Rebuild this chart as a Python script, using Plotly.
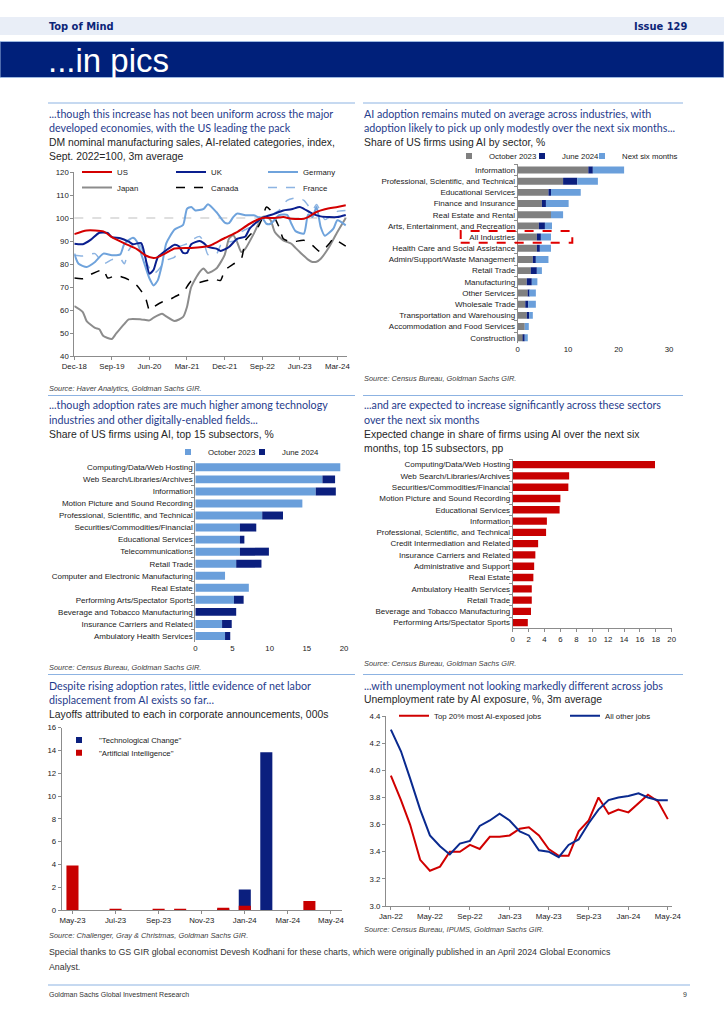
import plotly.graph_objects as go
import pandas as pd

# ======================= DATA =======================
# Chart 1: DM nominal manufacturing sales, AI-related categories (index, Sept 2022 = 100)
# month offsets are counted from Dec-2018
p1_start = "2018-12-01"
us_months = [0, 3, 7, 9, 12, 15, 17, 19, 20, 22, 24, 28, 32, 33, 36, 39, 42, 45, 48, 50, 52, 55, 56, 58, 60, 63, 65]
us_values = [93, 94.6, 94.2, 91.7, 89, 86.5, 83.8, 82.6, 83, 84.8, 86.7, 87, 87.7, 88.4, 91.3, 93.9, 97.5, 100, 100,
             100.4, 99.7, 99.7, 100.4, 102.6, 103.8, 104.8, 105.5]
uk_months = [0, 2, 4, 6, 8, 9, 11, 13, 14, 16, 17, 18, 19, 20, 22, 24, 25, 26, 27, 28, 30, 31, 32, 34, 35, 37, 39, 41,
             42, 45, 48, 50, 52, 54, 55, 57, 59, 61, 63, 65]
uk_values = [88.8, 88.6, 90.6, 93.6, 93.5, 91.7, 91.2, 89.7, 88.6, 89.1, 83, 75.8, 77.5, 83, 86, 88.4, 87.7, 84.8, 84.8,
             88.6, 90, 89.1, 87.4, 86.7, 85.7, 87.4, 90.9, 92, 95.4, 100, 101.9, 103.3, 103.8, 104.8, 104, 101.9,
             100.7, 100.4, 100.4, 101.3]
de_months = [0, 1, 3, 5, 7, 9, 11, 12, 14, 15, 16, 17, 18, 19, 20, 21, 22, 24, 26, 27, 28, 29, 31, 32, 34, 36, 37, 38,
             39, 41, 43, 44, 45, 46, 47, 49, 51, 52, 53, 55, 56, 57, 58, 59, 60, 62, 63, 65]
de_values = [84.5, 80.1, 78.7, 80.9, 84.5, 83.8, 84.2, 88.8, 91.4, 89.8, 84.5, 79, 73.7, 70.7, 73, 80, 89, 95, 97, 104,
             104.8, 103.3, 104, 106, 102.6, 98, 97.8, 100.4, 101.9, 101.2, 101.2, 100.4, 100, 97.5, 97.5, 101.2,
             101.4, 97.5, 94.3, 93.2, 101.5, 100.4, 104.8, 96, 92.3, 95.4, 99, 96.8]
jp_months = [0, 2, 3, 5, 6, 7, 9, 10, 12, 13, 16, 18, 19, 21, 22, 24, 26, 27, 28, 30, 31, 32, 34, 36, 37, 38, 39, 40,
             41, 43, 45, 46, 47, 48, 50, 52, 53, 54, 56, 57, 58, 59, 61, 63, 65]
jp_values = [61.7, 59.1, 55.2, 52.2, 51.6, 48.7, 47.4, 49.7, 54, 55.9, 55.9, 55.5, 56.7, 58.4, 57.2, 55.2, 57, 61.3, 70,
             76.5, 78, 76.1, 78, 84, 91, 92.5, 89.6, 85.2, 86.7, 93.2, 100.4, 100.5, 99, 93.9, 90.3, 88.8, 87, 85.2,
             81.9, 80.9, 81, 82.3, 87.4, 93.9, 100]
ca_months = [0, 2, 4, 7, 8, 10, 12, 14, 15, 17, 18, 19, 21, 22, 24, 26, 28, 29, 32, 33, 35, 36, 38, 40, 41, 42, 44, 45,
             46, 47, 49, 50, 52, 55, 57, 59, 61, 62, 63, 65]
ca_values = [73.9, 73.6, 75.5, 77.5, 73.9, 75, 74, 72.2, 70.7, 65.7, 59.9, 61.3, 63.5, 63.8, 65.7, 67.8, 72.5, 71.7,
             72.9, 73.6, 72.9, 77.2, 79.9, 82.3, 90.3, 92.5, 96.1, 100, 104.8, 103.3, 96.1, 91, 89.6, 90.3, 88.1, 85.2,
             88.8, 91, 90, 87.8]
fr_months = [0, 2, 5, 7, 9, 11, 12, 13, 15, 16, 17, 19, 20, 22, 24, 25, 27, 28, 30, 31, 32, 34, 35, 37, 39, 40, 43, 45,
             47, 49, 51, 53, 55, 57, 58, 60, 61, 63, 65]
fr_values = [83.8, 83.5, 84.5, 80.1, 81.9, 82.3, 80.1, 85.9, 90.3, 87.4, 81.6, 75.8, 77.2, 81.6, 83, 87.4, 88.8, 90.3,
             92, 89.6, 84.1, 84.2, 88.1, 89.6, 90.3, 93.9, 96.8, 100, 101.2, 103.3, 107.7, 108.7, 107.7, 103.3, 105.9,
             99.3, 100.4, 102.9, 103.3]

# Chart 2: share of US firms using AI by sector, % (stacked segments)
sectors = ["Information", "Professional, Scientific, and Technical", "Educational Services", "Finance and Insurance",
           "Real Estate and Rental", "Arts, Entertainment, and Recreation", "All Industries",
           "Health Care and Social Assistance", "Admin/Support/Waste Management", "Retail Trade", "Manufacturing",
           "Other Services", "Wholesale Trade", "Transportation and Warehousing", "Accommodation and Food Services",
           "Construction"]
sector_oct23 = [14.0, 9.0, 6.1, 4.8, 6.6, 4.2, 3.8, 3.8, 3.0, 2.6, 1.8, 2.0, 1.5, 1.8, 1.4, 1.1]
sector_jun24_add = [0.9, 2.8, 0.5, 0.8, 0.0, 1.2, 0.8, 0.6, 0.6, 1.2, 1.0, 0.3, 0.6, 0.5, 0.0, 0.3]
sector_next6_add = [6.2, 4.1, 5.9, 4.5, 2.4, 1.4, 2.0, 2.2, 2.5, 1.0, 1.1, 1.3, 1.5, 0.7, 0.8, 0.6]

# Chart 3: share of US firms using AI, top 15 subsectors, %
sub3 = ["Computing/Data/Web Hosting", "Web Search/Libraries/Archives", "Information",
        "Motion Picture and Sound Recording", "Professional, Scientific, and Technical",
        "Securities/Commodities/Financial", "Educational Services", "Telecommunications", "Retail Trade",
        "Computer and Electronic Manufacturing", "Real Estate", "Performing Arts/Spectator Sports",
        "Beverage and Tobacco Manufacturing", "Insurance Carriers and Related", "Ambulatory Health Services"]
sub3_oct23 = [19.5, 17.1, 16.2, 14.4, 9.0, 6.0, 6.0, 6.0, 5.5, 4.0, 7.2, 5.2, 0.0, 3.6, 4.0]
sub3_jun24_add = [0.0, 1.7, 2.7, 0.0, 2.8, 2.2, 0.6, 3.9, 3.4, 0.0, 0.0, 1.3, 5.5, 1.3, 0.7]

# Chart 4: expected change in share of firms using AI over next six months, pp
sub4 = ["Computing/Data/Web Hosting", "Web Search/Libraries/Archives", "Securities/Commodities/Financial",
        "Motion Picture and Sound Recording", "Educational Services", "Information",
        "Professional, Scientific, and Technical", "Credit Intermediation and Related",
        "Insurance Carriers and Related", "Administrative and Support", "Real Estate", "Ambulatory Health Services",
        "Retail Trade", "Beverage and Tobacco Manufacturing", "Performing Arts/Spectator Sports"]
sub4_change = [17.9, 7.1, 7.0, 6.0, 5.9, 4.3, 4.2, 3.2, 2.85, 2.7, 2.6, 2.4, 2.4, 2.3, 1.9]

# Chart 5: layoffs attributed in corporate announcements, 000s
months5 = ["May-23", "Jun-23", "Jul-23", "Aug-23", "Sep-23", "Oct-23", "Nov-23", "Dec-23", "Jan-24", "Feb-24",
           "Mar-24", "Apr-24", "May-24"]
layoffs_tech = [0, 0, 0, 0, 0, 0, 0, 0.1, 1.8, 13.85, 0, 0, 0]
layoffs_ai = [3.9, 0, 0.05, 0, 0.05, 0.1, 0, 0.2, 0.38, 0, 0, 0.8, 0]

# Chart 6: unemployment rate by AI exposure, %, 3m average (Jan-22 .. May-24)
months6 = ["2022-01", "2022-02", "2022-03", "2022-04", "2022-05", "2022-06", "2022-07", "2022-08", "2022-09",
           "2022-10", "2022-11", "2022-12", "2023-01", "2023-02", "2023-03", "2023-04", "2023-05", "2023-06",
           "2023-07", "2023-08", "2023-09", "2023-10", "2023-11", "2023-12", "2024-01", "2024-02", "2024-03",
           "2024-04", "2024-05"]
unemp_top20 = [3.96, 3.78, 3.60, 3.34, 3.26, 3.29, 3.40, 3.40, 3.45, 3.42, 3.51, 3.51, 3.52, 3.57, 3.58, 3.52, 3.42,
               3.37, 3.37, 3.55, 3.63, 3.80, 3.68, 3.71, 3.69, 3.76, 3.82, 3.77, 3.64]
unemp_other = [4.30, 4.14, 3.94, 3.71, 3.52, 3.44, 3.38, 3.46, 3.48, 3.59, 3.63, 3.68, 3.63, 3.55, 3.52, 3.41, 3.40,
               3.36, 3.45, 3.49, 3.61, 3.71, 3.78, 3.80, 3.81, 3.83, 3.80, 3.78, 3.78]

# ======================= HELPERS =======================
W, H = 724, 1024


def px(x):
    return x / W


def py(y):
    return 1 - y / H


def mdate(m):
    return (pd.Timestamp(p1_start) + pd.DateOffset(months=m)).strftime("%Y-%m-%d")


ARIAL = "Liberation Sans, Arial, Helvetica, sans-serif"
TICK_FONT = dict(family=ARIAL, size=7.8, color="#1a1a1a")
CAT_FONT = dict(family=ARIAL, size=8, color="#1a1a1a")
LEG_FONT = dict(family=ARIAL, size=7.8, color="#1a1a1a")
TITLE_FONT = dict(family="Lato, Carlito, Calibri, sans-serif", size=10.7, color="#1F3C8C")
SUB_FONT = dict(family=ARIAL, size=10.4, color="#262626")
SRC_FONT = dict(family=ARIAL, size=7.4, color="#404040")
AXC = "#8c8c8c"

NAVY = "#0B1F7E"
RED = "#C80000"
LBLUE = "#6A9FDB"
GRAY = "#808080"

fig = go.Figure()

# ---------------- Chart 1 lines ----------------
p1_series = [
    ("US", us_months, us_values, "#D40000", "solid", 2.0, "legend"),
    ("UK", uk_months, uk_values, "#0A1F8F", "solid", 2.0, "legend2"),
    ("Germany", de_months, de_values, "#6FA3DC", "solid", 2.0, "legend3"),
    ("Japan", jp_months, jp_values, "#8C8C8C", "solid", 2.0, "legend4"),
    ("Canada", ca_months, ca_values, "#000000", "dash", 1.5, "legend5"),
    ("France", fr_months, fr_values, "#8DB4E2", "dash", 1.5, "legend6"),
]
draw_order = ["Japan", "Canada", "France", "Germany", "UK", "US"]
by_name = {s[0]: s for s in p1_series}
for nm in draw_order:
    name, ms, vs, col, dash, wd, lg = by_name[nm]
    fig.add_trace(go.Scatter(
        x=[mdate(m) for m in ms], y=vs, name=name, mode="lines",
        line=dict(color=col, width=wd, dash=dash, shape="spline", smoothing=0.6),
        xaxis="x", yaxis="y", legend=lg, hoverinfo="skip"))

# ---------------- Chart 2 stacked bars ----------------
base_next = [a + b for a, b in zip(sector_oct23, sector_jun24_add)]
fig.add_trace(go.Bar(y=sectors, x=sector_oct23, orientation="h", marker=dict(color=GRAY, line_width=0),
                     width=0.62, xaxis="x2", yaxis="y2", showlegend=False, name="October 2023"))
fig.add_trace(go.Bar(y=sectors, x=sector_jun24_add, base=sector_oct23, orientation="h",
                     marker=dict(color=NAVY, line_width=0), width=0.62, xaxis="x2", yaxis="y2",
                     showlegend=False, name="June 2024"))
fig.add_trace(go.Bar(y=sectors, x=sector_next6_add, base=base_next, orientation="h",
                     marker=dict(color=LBLUE, line_width=0), width=0.62, xaxis="x2", yaxis="y2",
                     showlegend=False, name="Next six months"))
for nm, col, lg in [("October 2023", GRAY, "legend7"), ("June 2024", NAVY, "legend8"),
                    ("Next six months", LBLUE, "legend9")]:
    fig.add_trace(go.Scatter(x=[None], y=[None], mode="markers", name=nm,
                             marker=dict(symbol="square", size=6, color=col), xaxis="x2", yaxis="y2", legend=lg))

# ---------------- Chart 3 stacked bars ----------------
fig.add_trace(go.Bar(y=sub3, x=sub3_oct23, orientation="h", marker=dict(color=LBLUE, line_width=0),
                     width=0.66, xaxis="x3", yaxis="y3", showlegend=False, name="October 2023"))
fig.add_trace(go.Bar(y=sub3, x=sub3_jun24_add, base=sub3_oct23, orientation="h",
                     marker=dict(color=NAVY, line_width=0), width=0.66, xaxis="x3", yaxis="y3",
                     showlegend=False, name="June 2024"))
for nm, col, lg in [("October 2023", LBLUE, "legend10"), ("June 2024", NAVY, "legend11")]:
    fig.add_trace(go.Scatter(x=[None], y=[None], mode="markers", name=nm,
                             marker=dict(symbol="square", size=6, color=col), xaxis="x3", yaxis="y3", legend=lg))

# ---------------- Chart 4 bars ----------------
fig.add_trace(go.Bar(y=sub4, x=sub4_change, orientation="h", marker=dict(color=RED, line_width=0),
                     width=0.65, xaxis="x4", yaxis="y4", showlegend=False, name="Expected change"))

# ---------------- Chart 5 bars ----------------
fig.add_trace(go.Bar(x=months5, y=layoffs_tech, marker=dict(color=NAVY, line_width=0), width=0.56,
                     xaxis="x5", yaxis="y5", showlegend=False, name='"Technological Change"'))
fig.add_trace(go.Bar(x=months5, y=layoffs_ai, marker=dict(color=RED, line_width=0), width=0.56,
                     xaxis="x5", yaxis="y5", showlegend=False, name='"Artificial Intelligence"'))
for nm, col, lg in [('"Technological Change"', NAVY, "legend12"), ('"Artificial Intelligence"', RED, "legend13")]:
    fig.add_trace(go.Scatter(x=[None], y=[None], mode="markers", name=nm,
                             marker=dict(symbol="square", size=6, color=col), xaxis="x5", yaxis="y5", legend=lg))

# ---------------- Chart 6 lines ----------------
fig.add_trace(go.Scatter(x=months6, y=unemp_top20, mode="lines", name="Top 20% most AI-exposed jobs",
                         line=dict(color="#D00000", width=2), xaxis="x6", yaxis="y6", legend="legend14"))
fig.add_trace(go.Scatter(x=months6, y=unemp_other, mode="lines", name="All other jobs",
                         line=dict(color="#0A2A8F", width=2), xaxis="x6", yaxis="y6", legend="legend15"))


# ======================= AXES =======================
def axis(**kw):
    d = dict(showgrid=False, zeroline=False, tickfont=TICK_FONT, linecolor=AXC, linewidth=1,
             tickcolor=AXC, ticklen=3, ticks="outside", showline=True, fixedrange=True, automargin=False)
    d.update(kw)
    return d


layout_axes = dict(
    xaxis=axis(domain=[px(74.3), px(346.7)], anchor="y", type="date",
               range=["2018-12-01", "2024-05-08"], tick0="2018-12-01", dtick="M9", tickformat="%b-%y"),
    yaxis=axis(domain=[py(356), py(172)], anchor="x", range=[40, 120], dtick=10),
    xaxis2=axis(domain=[px(517.7), px(669)], anchor="y2", range=[0, 30], dtick=10, showline=False, ticks=""),
    yaxis2=axis(domain=[py(343.3), py(164.4)], anchor="x2", type="category", categoryorder="array",
                categoryarray=sectors, autorange="reversed", tickson="boundaries", tickfont=CAT_FONT),
    xaxis3=axis(domain=[px(195.3), px(344)], anchor="y3", range=[0, 20], dtick=5, showline=False, ticks=""),
    yaxis3=axis(domain=[py(642), py(461.3)], anchor="x3", type="category", categoryorder="array",
                categoryarray=sub3, autorange="reversed", tickson="boundaries", tickfont=CAT_FONT),
    xaxis4=axis(domain=[px(512.7), px(671.7)], anchor="y4", range=[0, 20], dtick=2),
    yaxis4=axis(domain=[py(628.3), py(459)], anchor="x4", type="category", categoryorder="array",
                categoryarray=sub4, autorange="reversed", tickson="boundaries", tickfont=CAT_FONT),
    xaxis5=axis(domain=[px(61.7), px(341.7)], anchor="y5", type="category", categoryorder="array",
                categoryarray=months5, tickmode="array", tickvals=months5[::2]),
    yaxis5=axis(domain=[py(910), py(727.7)], anchor="x5", range=[0, 16], dtick=2),
    xaxis6=axis(domain=[px(386), px(671.7)], anchor="y6", type="date",
                range=["2021-12-17", "2024-05-13"], tick0="2022-01-01", dtick="M4", tickformat="%b-%y"),
    yaxis6=axis(domain=[py(906), py(716)], anchor="x6", range=[3.0, 4.4], dtick=0.2, tickformat=".1f"),
)

# ======================= LEGENDS =======================
legend_pos = {
    "legend": (77, 172), "legend2": (171, 172), "legend3": (263, 172),
    "legend4": (77, 187.5), "legend5": (171, 187.5), "legend6": (263, 187.5),
    "legend7": (449, 156), "legend8": (522, 156), "legend9": (582, 156),
    "legend10": (168, 452), "legend11": (242, 452),
    "legend12": (59, 740), "legend13": (59, 752.7),
    "legend14": (394, 715.7), "legend15": (565, 715.7),
}
legends = {}
for k, (x, y) in legend_pos.items():
    legends[k] = dict(x=px(x), y=py(y), xanchor="left", yanchor="middle", orientation="h",
                      bgcolor="rgba(0,0,0,0)", borderwidth=0, font=LEG_FONT, itemwidth=30)

# ======================= TEXT =======================
ann = []


def txt(x, y, s, font, xanchor="left"):
    ann.append(dict(x=px(x), y=py(y), xref="paper", yref="paper", text=s, showarrow=False,
                    xanchor=xanchor, yanchor="middle", font=font, align="left"))


HDR = dict(family="Liberation Sans Narrow, DejaVu Sans Condensed, Arial Narrow, sans-serif", size=11,
           color="#0C2577")
txt(47, 26.5, "<b>Top of Mind</b>", HDR)
txt(689, 26.5, "<b>Issue 129</b>", HDR, xanchor="right")
txt(46, 60, "...in pics", dict(family=ARIAL, size=33, color="#FFFFFF"))

txt(47, 113, "...though this increase has not been uniform across the major", TITLE_FONT)
txt(47, 127, "developed economies, with the US leading the pack", TITLE_FONT)
txt(47, 142, "DM nominal manufacturing sales, AI-related categories, index,", SUB_FONT)
txt(47, 156, "Sept. 2022=100, 3m average", SUB_FONT)
txt(47, 388, "<i>Source: Haver Analytics, Goldman Sachs GIR.</i>", SRC_FONT)

txt(362, 113, "AI adoption remains muted on average across industries, with", TITLE_FONT)
txt(362, 127, "adoption likely to pick up only modestly over the next six months...", TITLE_FONT)
txt(362, 142, "Share of US firms using AI by sector, %", SUB_FONT)
txt(362, 378, "<i>Source: Census Bureau, Goldman Sachs GIR.</i>", SRC_FONT)

txt(47, 404.5, "...though adoption rates are much higher among technology", TITLE_FONT)
txt(47, 419, "industries and other digitally-enabled fields...", TITLE_FONT)
txt(47, 434, "Share of US firms using AI, top 15 subsectors, %", SUB_FONT)
txt(47, 667.5, "<i>Source: Census Bureau, Goldman Sachs GIR.</i>", SRC_FONT)

txt(362, 404.5, "...and are expected to increase significantly across these sectors", TITLE_FONT)
txt(362, 419, "over the next six months", TITLE_FONT)
txt(362, 434, "Expected change in share of firms using AI over the next six", SUB_FONT)
txt(362, 448, "months, top 15 subsectors, pp", SUB_FONT)
txt(362, 663, "<i>Source: Census Bureau, Goldman Sachs GIR.</i>", SRC_FONT)

txt(47, 685.5, "Despite rising adoption rates, little evidence of net labor", TITLE_FONT)
txt(47, 699.5, "displacement from AI exists so far...", TITLE_FONT)
txt(47, 714, "Layoffs attributed to each in corporate announcements, 000s", SUB_FONT)
txt(47, 935.5, "<i>Source: Challenger, Gray &amp; Christmas, Goldman Sachs GIR.</i>", SRC_FONT)

txt(362, 685.5, "...with unemployment not looking markedly different across jobs", TITLE_FONT)
txt(362, 699.5, "Unemployment rate by AI exposure, %, 3m average", SUB_FONT)
txt(362, 929, "<i>Source: Census Bureau, IPUMS, Goldman Sachs GIR.</i>", SRC_FONT)

FOOT = dict(family=ARIAL, size=8.8, color="#333333")
txt(47, 952, "Special thanks to GS GIR global economist Devesh Kodhani for these charts, which were originally "
             "published in an April 2024 Global Economics", FOOT)
txt(47, 967, "Analyst.", FOOT)
txt(47, 994, "Goldman Sachs Global Investment Research", dict(family=ARIAL, size=7, color="#333333"))
txt(689, 994, "9", dict(family=ARIAL, size=7, color="#333333"), xanchor="right")

# ======================= SHAPES =======================
SEP = "#8DB3E2"
shapes = [
    dict(type="rect", xref="paper", yref="paper", x0=0, x1=1, y0=py(35), y1=py(17),
         fillcolor="#E9EEF7", line_width=0, layer="below"),
    dict(type="rect", xref="paper", yref="paper", x0=0, x1=1, y0=py(77.5), y1=py(41.5),
         fillcolor="#00207A", line=dict(color="#9DB8E0", width=1), layer="below"),
]
for (x0, x1, y) in [(48, 355, 103), (363, 683, 103), (48, 355, 395.5), (363, 683, 395.5),
                    (48, 355, 674.5), (363, 683, 674.5), (48, 690, 985)]:
    shapes.append(dict(type="line", xref="paper", yref="paper", x0=px(x0), x1=px(x1), y0=py(y), y1=py(y),
                       line=dict(color=SEP, width=1)))
# reference line at 100 in chart 1
shapes.append(dict(type="line", xref="x domain", yref="y", x0=0, x1=1, y0=100, y1=100,
                   line=dict(color="#BFBFBF", width=1, dash="dash"), layer="below"))
# highlight box around "All Industries" in chart 2
shapes.append(dict(type="rect", xref="paper", yref="paper", x0=px(460.7), x1=px(572.3), y0=py(242.7),
                   y1=py(231), line=dict(color="#E00000", width=2, dash="dash"), fillcolor="rgba(0,0,0,0)"))

fig.update_layout(
    width=W, height=H, margin=dict(l=0, r=0, t=0, b=0, pad=0, autoexpand=False),
    paper_bgcolor="white", plot_bgcolor="rgba(0,0,0,0)",
    barmode="overlay", showlegend=True, hovermode=False,
    annotations=ann, shapes=shapes,
    **layout_axes, **legends,
)

# remove the browser's default page margin so the 724x1024 figure fills the window exactly
fig.write_html("out.html", config={"displayModeBar": False, "staticPlot": False},
               post_script="document.body.style.margin='0';document.body.style.overflow='hidden';")
